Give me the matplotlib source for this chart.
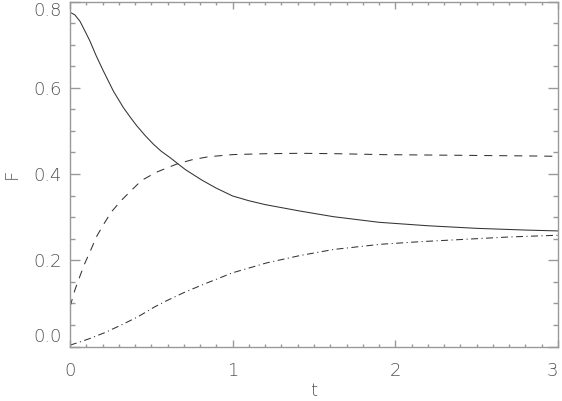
import numpy as np
import matplotlib
matplotlib.use('Agg')
import matplotlib.pyplot as plt
from matplotlib.ticker import MultipleLocator

# valores
t_solido = [0, 0.03, 0.0615, 0.09, 0.123, 0.16, 0.205, 0.267, 0.328, 0.37, 0.41, 0.46, 0.513,
            0.56, 0.615, 0.71, 0.81, 0.9, 1.0, 1.1, 1.2, 1.415, 1.62, 1.9, 2.2, 2.5, 2.8, 3.0]
F_solido = [0.775, 0.769, 0.754, 0.733, 0.708, 0.675, 0.639, 0.592, 0.554, 0.532, 0.512, 0.490, 0.469,
            0.453, 0.438, 0.410, 0.386, 0.367, 0.349, 0.338, 0.329, 0.314, 0.301, 0.288, 0.280,
            0.274, 0.270, 0.268]

t_tracejado = [0, 0.03, 0.06, 0.09, 0.127, 0.162, 0.203, 0.254, 0.316, 0.377, 0.44, 0.53,
               0.656, 0.75, 0.851, 1.0, 1.2, 1.415, 1.65, 1.908, 2.2, 2.5, 2.8, 3.0]
F_tracejado = [0.092, 0.131, 0.162, 0.192, 0.223, 0.254, 0.281, 0.312, 0.339, 0.362, 0.385, 0.404,
               0.423, 0.433, 0.440, 0.445, 0.447, 0.448, 0.447, 0.445, 0.444, 0.443, 0.442, 0.441]

t_ponto = [0, 0.111, 0.213, 0.316, 0.418, 0.521, 0.593, 0.7, 0.82, 1.0, 1.21, 1.415,
           1.62, 1.908, 2.15, 2.4, 2.7, 3.0]
F_ponto = [0.003, 0.017, 0.032, 0.05, 0.069, 0.092, 0.106, 0.125, 0.144, 0.171, 0.194, 0.211,
           0.225, 0.237, 0.243, 0.248, 0.254, 0.258]

x_ticks = [0, 1, 2, 3]
y_ticks = [0.0, 0.2, 0.4, 0.6, 0.8]
y_labels = ['0.0', '0.2', '0.4', '0.6', '0.8']

plt.rcParams['lines.scale_dashes'] = False
cor_eixo = '#999999'
cor_texto = '#555555'
cor_linha = '#333333'

fig = plt.figure(figsize=(5.62, 4.01), dpi=100)
ax = fig.add_axes([70 / 562, 1 - 346.5 / 401, 488 / 562, 345 / 401])

ax.plot(t_solido, F_solido, color=cor_linha, lw=0.75)
ax.plot(t_tracejado, F_tracejado, color=cor_linha, lw=0.75, linestyle=(0, (5.8, 5.0)))
ax.plot(t_ponto, F_ponto, color=cor_linha, lw=0.75, linestyle=(0, (5.0, 2.5, 0.8, 2.5)))

ax.set_xlim(0, 3)
ax.set_ylim(0, 0.8)

# eixos estilo IDL: ticks para dentro nos quatro lados
ax.set_xticks(x_ticks)
ax.set_xticklabels([str(v) for v in x_ticks])
ax.set_yticks(y_ticks)
ax.set_yticklabels(y_labels)
ax.xaxis.set_minor_locator(MultipleLocator(0.1))
ax.yaxis.set_minor_locator(MultipleLocator(0.05))
ax.tick_params(which='both', direction='in', top=True, right=True, color=cor_eixo, width=1,
               labelcolor=cor_texto, labelsize=13)
ax.xaxis.set_tick_params(which='major', length=5, pad=11)
ax.xaxis.set_tick_params(which='minor', length=2.5)
ax.yaxis.set_tick_params(which='major', length=7.2, pad=6)
ax.yaxis.set_tick_params(which='minor', length=3.6)
for lado in ax.spines.values():
    lado.set_color(cor_eixo)
    lado.set_linewidth(1)

for rotulo in ax.get_xticklabels() + ax.get_yticklabels():
    rotulo.set_fontweight('light')
ylabs = ax.get_yticklabels()
ylabs[0].set_verticalalignment('bottom')
ylabs[-1].set_verticalalignment('top')
# o "3" fica na borda da figura, encosta a direita para nao cortar
ax.get_xticklabels()[-1].set_horizontalalignment('right')

ax.set_xlabel('t', fontsize=13, color=cor_texto, fontweight='light')
ax.xaxis.set_label_coords(0.5, -0.155)
ax.xaxis.label.set_verticalalignment('bottom')
ax.set_ylabel('F', fontsize=13, color=cor_texto, fontweight='light')
ax.yaxis.set_label_coords(-0.119, 0.5)
ax.yaxis.label.set_verticalalignment('center')

fig.savefig('out.png', dpi=100)
